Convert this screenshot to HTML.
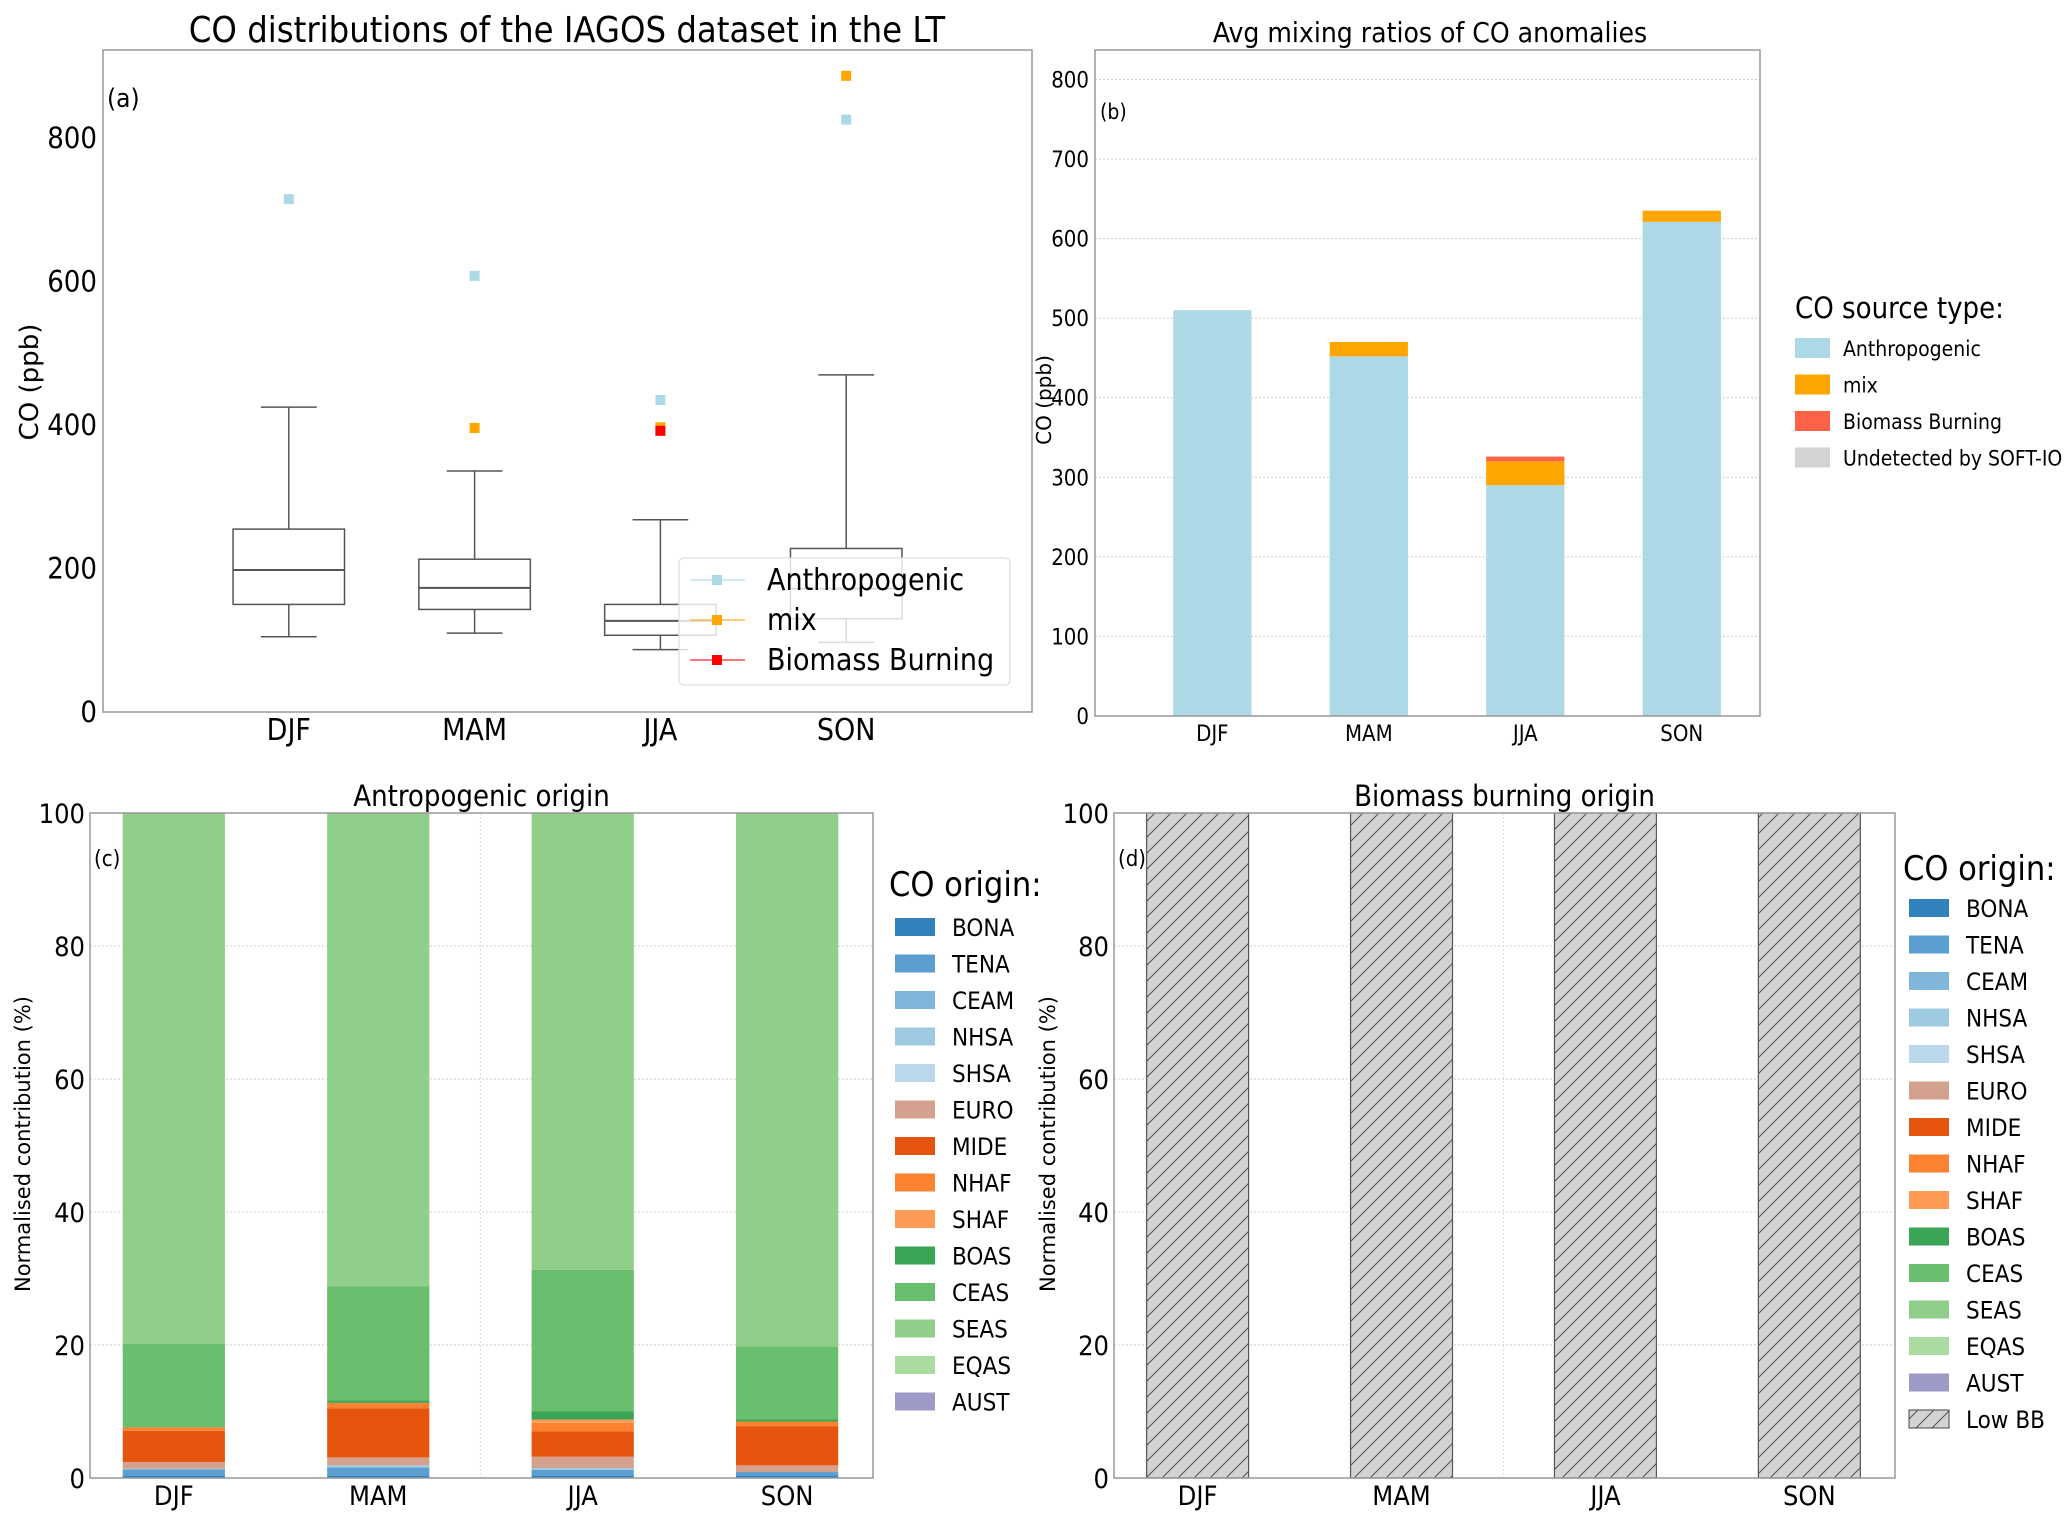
<!DOCTYPE html>
<html><head><meta charset="utf-8">
<style>
html,body{margin:0;padding:0;background:#fff;overflow:hidden;}
svg{display:block;font-family:"Liberation Sans Narrow","DejaVu Sans Condensed","Liberation Sans",sans-serif;}
.wide{font-family:"DejaVu Sans","Liberation Sans",sans-serif;}
</style></head>
<body>
<svg id="fig" width="2067" height="1527" viewBox="0 0 2067 1527" xmlns="http://www.w3.org/2000/svg">
<defs>
<pattern id="hatch" patternUnits="userSpaceOnUse" width="16" height="16">
<rect width="16" height="16" fill="#d3d3d3"/>
<path d="M-2,18 L18,-2 M-4,4 L4,-4 M12,20 L20,12" stroke="#555" stroke-width="1.1"/>
</pattern>
</defs>
</svg>
<script>
// ---------- data ----------
const seasons = ["DJF","MAM","JJA","SON"];
// panel (a) box stats
const boxQ1 = [150,143,107,130];
const boxMed = [198,173,127,172];
const boxQ3 = [255,213,150,228];
const boxLo = [105,110,87,97];
const boxHi = [425,336,268,470];
const outAnthro = [715,608,435,826];
const outMix = [null,396,397,887];
const outBB = [null,null,392,null];
const aTicks = [0,200,400,600,800];
// panel (b)
const bAnthro = [510,452,290,621];
const bMix = [0,18,30,14];
const bBB = [0,0,6,0];
const bTicks = [0,100,200,300,400,500,600,700,800];
// panel (c)
const regions = ["BONA","TENA","CEAM","NHSA","SHSA","EURO","MIDE","NHAF","SHAF","BOAS","CEAS","SEAS","EQAS","AUST"];
const regionColors = ["#3182bd","#5a9fd0","#7fb6da","#9ecae1","#bbd7ec","#d4a18e","#e6550d","#fd8232","#fd9b55","#3aa655","#6abf6e","#8fcf8a","#aadc9f","#9e9ac8"];
const cBONA = [0.3,0.3,0.3,0.3];
const cTENA = [1.0,1.2,0.9,0.6];
const cCEAM = [0,0.2,0,0];
const cNHSA = [0.1,0.2,0.3,0];
const cSHSA = [0,0,0,0];
const cEURO = [1.0,1.2,1.7,1.0];
const cMIDE = [4.7,7.4,3.8,5.9];
const cNHAF = [0.5,0.8,1.3,0.7];
const cSHAF = [0,0,0.5,0];
const cBOAS = [0,0.4,1.2,0.3];
const cCEAS = [12.6,17.1,21.3,11.0];
const cSEAS = [79.8,71.2,68.7,80.2];
const cEQAS = [0,0,0,0];
const cAUST = [0,0,0,0];
// panel (d)
const dLowBB = [100,100,100,100];
const pctTicks = [0,20,40,60,80,100];

const svg = document.getElementById('fig');
const NS = "http://www.w3.org/2000/svg";
function mk(tag, attrs, parent){
  const e = document.createElementNS(NS, tag);
  for (const k in attrs) e.setAttribute(k, attrs[k]);
  (parent||svg).appendChild(e);
  return e;
}
function txt(s, attrs, parent){ const e = mk('text', attrs, parent); e.textContent = s; return e; }
function axes(L,R,T,B,x0,x1,y0,y1){
  return {
    x: v => L + (v - x0) / (x1 - x0) * (R - L),
    y: v => B - (v - y0) / (y1 - y0) * (B - T),
    L,R,T,B
  };
}
function frame(ax, g){
  const r = mk('rect',{x:ax.L,y:ax.T,width:ax.R-ax.L,height:ax.B-ax.T,fill:'none',stroke:'#999','stroke-width':1.5},g);
   
}

// ================= Panel A =================
(function(){
  const g = mk('g',{});
   
  const ax = axes(103,1032,50,712,0,5,0,923);
  const t = txt('CO distributions of the IAGOS dataset in the LT',{x:567,y:42,'font-size':36,'text-anchor':'middle'},g);
   
  frame(ax,g);
  aTicks.forEach(v=>{
    const tl = txt(String(v),{x:ax.L-6,y:ax.y(v)+10,'font-size':29,'text-anchor':'end'},g);
     
  });
  seasons.forEach((s,i)=>{
    const tl = txt(s,{x:ax.x(i+1),y:740,'font-size':30,'text-anchor':'middle'},g);
     
  });
  const yl = txt('CO (ppb)',{x:0,y:0,'font-size':26,'text-anchor':'middle',transform:'translate(38,382) rotate(-90)','class':'wide'},g);
   
  const lab = txt('(a)',{x:107,y:107,'font-size':26},g);
   
  const hw = 0.3, cw = 0.15;
  seasons.forEach((s,i)=>{
    const c = i+1;
    const bx = mk('g',{},g);
     
    const st = {stroke:'#555','stroke-width':1.5,fill:'none'};
    mk('line',Object.assign({x1:ax.x(c),x2:ax.x(c),y1:ax.y(boxQ3[i]),y2:ax.y(boxHi[i])},st),bx);
    mk('line',Object.assign({x1:ax.x(c),x2:ax.x(c),y1:ax.y(boxQ1[i]),y2:ax.y(boxLo[i])},st),bx);
    mk('line',Object.assign({x1:ax.x(c-cw),x2:ax.x(c+cw),y1:ax.y(boxHi[i]),y2:ax.y(boxHi[i])},st),bx);
    mk('line',Object.assign({x1:ax.x(c-cw),x2:ax.x(c+cw),y1:ax.y(boxLo[i]),y2:ax.y(boxLo[i])},st),bx);
    mk('rect',Object.assign({x:ax.x(c-hw),y:ax.y(boxQ3[i]),width:ax.x(c+hw)-ax.x(c-hw),height:ax.y(boxQ1[i])-ax.y(boxQ3[i])},st),bx);
    mk('line',Object.assign({x1:ax.x(c-hw),x2:ax.x(c+hw),y1:ax.y(boxMed[i]),y2:ax.y(boxMed[i])},st,{'stroke-width':2}),bx);
    [[outAnthro,'#add8e6','anthropogenic'],[outMix,'#ffa500','mix'],[outBB,'#ff0000','biomass-burning']].forEach(([arr,col,nm])=>{
      if(arr[i]==null) return;
      const p = mk('rect',{x:ax.x(c)-5,y:ax.y(arr[i])-5,width:10,height:10,fill:col},g);
       
    });
  });
  const lg = mk('g',{},g);
   
  mk('rect',{x:679,y:558,width:331,height:127,rx:5,fill:'#fff','fill-opacity':0.8,stroke:'#ddd','stroke-width':1.2},lg);
  [['Anthropogenic','#add8e6'],['mix','#ffa500'],['Biomass Burning','#ff0000']].forEach(([n,c],k)=>{
    const y = 580 + k*40;
    const e = mk('g',{},lg);
     
    mk('line',{x1:690,x2:745,y1:y,y2:y,stroke:c,'stroke-width':1.5,'stroke-opacity':0.7},e);
    mk('rect',{x:712,y:y-5,width:10,height:10,fill:c},e);
    txt(n,{x:767,y:y+10,'font-size':30},e);
  });
})();

// ================= Panel B =================
(function(){
  const g = mk('g',{});
   
  const ax = axes(1095,1760,50,716,-0.75,3.5,0,837);
  const t = txt('Avg mixing ratios of CO anomalies',{x:1430,y:42,'font-size':28,'text-anchor':'middle'},g);
   
  bTicks.forEach(v=>{
    const gl = mk('line',{x1:ax.L,x2:ax.R,y1:ax.y(v),y2:ax.y(v),stroke:'#ccc','stroke-width':1,'stroke-dasharray':'2,2'},g);
     
    const tl = txt(String(v),{x:ax.L-6,y:ax.y(v)+8,'font-size':22,'text-anchor':'end'},g);
     
  });
  const w = 0.5;
  seasons.forEach((s,i)=>{
    let base = 0;
    [[bAnthro,'#add8e6','anthropogenic'],[bMix,'#ffa500','mix'],[bBB,'#ff6347','biomass-burning']].forEach(([arr,col,nm])=>{
      const v = arr[i]; if(!v) return;
      const r = mk('rect',{x:ax.x(i-w/2),y:ax.y(base+v),width:ax.x(i+w/2)-ax.x(i-w/2),height:ax.y(base)-ax.y(base+v),fill:col},g);
       
      base += v;
    });
    const tl = txt(s,{x:ax.x(i),y:741,'font-size':22,'text-anchor':'middle'},g);
     
  });
  frame(ax,g);
  const yl = txt('CO (ppb)',{x:0,y:0,'font-size':20,'text-anchor':'middle',transform:'translate(1051,400) rotate(-90)','class':'wide'},g);
   
  const lab = txt('(b)',{x:1100,y:119,'font-size':21},g);
   
  const lg = mk('g',{},g);
   
  txt('CO source type:',{x:1795,y:318,'font-size':29},lg);
  [['Anthropogenic','#add8e6'],['mix','#ffa500'],['Biomass Burning','#ff6347'],['Undetected by SOFT-IO','#d3d3d3']].forEach(([n,c],k)=>{
    const y = 348 + k*36.5;
    const e = mk('g',{},lg);
     
    mk('rect',{x:1795,y:y-10,width:35,height:20,fill:c},e);
    txt(n,{x:1843,y:y+8,'font-size':21},e);
  });
})();

// ================= Panels C & D =================
const cSeries = [cBONA,cTENA,cCEAM,cNHSA,cSHSA,cEURO,cMIDE,cNHAF,cSHAF,cBOAS,cCEAS,cSEAS,cEQAS,cAUST];
function pctPanel(opt){
  const g = mk('g',{});
   
  const ax = axes(opt.L,opt.R,813,1478,opt.x0,opt.x1,0,100);
  const t = txt(opt.title,{x:(opt.L+opt.R)/2,y:806,'font-size':29,'text-anchor':'middle'},g);
   
  pctTicks.forEach(v=>{
    const gl = mk('line',{x1:ax.L,x2:ax.R,y1:ax.y(v),y2:ax.y(v),stroke:'#ccc','stroke-width':1,'stroke-dasharray':'2,2'},g);
     
    const tl = txt(String(v),{x:ax.L-5,y:ax.y(v)+10,'font-size':27,'text-anchor':'end'},g);
     
  });
  [0,1,2,3].forEach(i=>{
    const gl = mk('line',{x1:ax.x(i),x2:ax.x(i),y1:ax.T,y2:ax.B,stroke:'#ddd','stroke-width':1,'stroke-dasharray':'2,2'},g);
     
  });
  const gm = mk('line',{x1:ax.x(1.5),x2:ax.x(1.5),y1:ax.T,y2:ax.B,stroke:'#ddd','stroke-width':1,'stroke-dasharray':'2,2'},g);
   
  const w = 0.5;
  seasons.forEach((s,i)=>{
    opt.draw(g,ax,i,s,w);
    const tl = txt(s,{x:ax.x(i),y:1505,'font-size':27,'text-anchor':'middle'},g);
     
  });
  frame(ax,g);
  const yl = txt('Normalised contribution (%)',{x:0,y:0,'font-size':21,'text-anchor':'middle',transform:'translate('+opt.yx+',1144) rotate(-90)','class':'wide'},g);
   
  const lab = txt(opt.label,{x:opt.labx,y:866,'font-size':22},g);
   
  const lg = mk('g',{},g);
   
  txt('CO origin:',{x:opt.lx-6,y:opt.ty,'font-size':34},lg);
  regions.forEach((r,k)=>{
    const y = opt.ly + k*36.5;
    const e = mk('g',{},lg);
     
    mk('rect',{x:opt.lx,y:y-9,width:40,height:18,fill:regionColors[k]},e);
    txt(r,{x:opt.lx+57,y:y+9,'font-size':24},e);
  });
  if(opt.lowbb){
    const y = opt.ly + regions.length*36.5;
    const e = mk('g',{},lg);
     
    mk('rect',{x:opt.lx,y:y-9,width:40,height:18,fill:'url(#hatch)',stroke:'#444'},e);
    txt('Low BB',{x:opt.lx+57,y:y+9,'font-size':24},e);
  }
}
pctPanel({name:'panel-c-anthropogenic-origin',title:'Antropogenic origin',label:'(c)',L:90,R:873,x0:-0.41,x1:3.42,lx:895,ly:927,ty:896,yx:30,labx:94,
  draw:(g,ax,i,s,w)=>{
    let base=0;
    cSeries.forEach((arr,k)=>{
      const v=arr[i]; if(!v) return;
      const r = mk('rect',{x:ax.x(i-w/2),y:ax.y(base+v),width:ax.x(i+w/2)-ax.x(i-w/2),height:ax.y(base)-ax.y(base+v),fill:regionColors[k]},g);
      
      
      base+=v;
    });
  }});
pctPanel({name:'panel-d-biomass-origin',title:'Biomass burning origin',label:'(d)',L:1114,R:1895,x0:-0.41,x1:3.42,lx:1909,ly:908,ty:880,yx:1055,labx:1118,lowbb:true,
  draw:(g,ax,i,s,w)=>{
    const v=dLowBB[i];
    const r = mk('rect',{x:ax.x(i-w/2),y:ax.y(v),width:ax.x(i+w/2)-ax.x(i-w/2),height:ax.y(0)-ax.y(v),fill:'url(#hatch)',stroke:'#555','stroke-width':1.2},g);
    
    
  }});
</script>
</body></html>
